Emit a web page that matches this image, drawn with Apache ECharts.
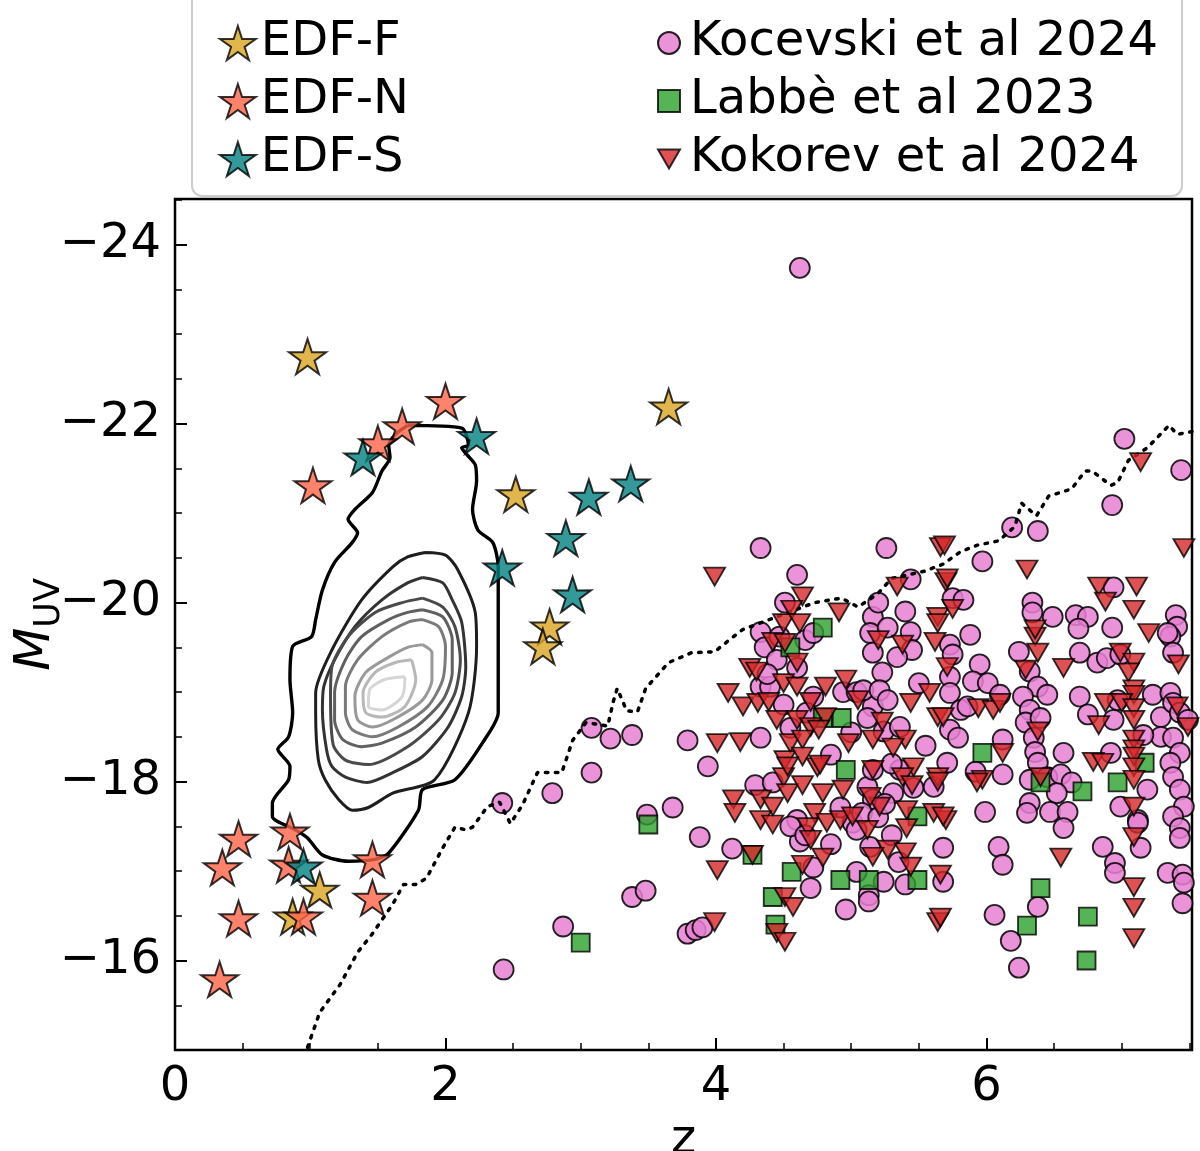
<!DOCTYPE html>
<html>
<head>
<meta charset="utf-8">
<script src="https://cdn.jsdelivr.net/npm/echarts@6/dist/echarts.min.js"></script>
<style>html,body{margin:0;padding:0;background:#fff}#c{width:1200px;height:1151px}</style>
</head>
<body>
<div id="c"></div>
<script>
// ---------------- data ----------------
const xMajorTicks = [0, 2, 4, 6];
const xMinorTicks = [0.5, 1, 1.5, 2.5, 3, 3.5, 4.5, 5, 5.5, 6.5, 7, 7.5];
const yMajorTicks = [-24, -22, -20, -18, -16];
const yMinorTicks = [-24.5, -23.5, -23, -22.5, -21.5, -21, -20.5, -19.5, -19, -18.5, -17.5, -17, -16.5, -15.5, -15];

const edfF = [[0.98,-22.75],[3.65,-22.19],[2.52,-21.21],[2.77,-19.73],[2.72,-19.51],[1.07,-16.79],[0.87,-16.49]];
const edfN = [[2.00,-22.25],[1.68,-21.97],[1.50,-21.78],[1.02,-21.31],[0.47,-17.36],[0.35,-17.04],[0.47,-16.47],[0.33,-15.79],[0.85,-17.44],[0.84,-17.07],[0.95,-16.49],[1.46,-17.13],[1.46,-16.70]];
const edfS = [[1.39,-21.62],[2.23,-21.86],[2.42,-20.39],[2.89,-20.72],[3.06,-21.18],[3.37,-21.33],[2.94,-20.09],[0.95,-17.05]];

const kocevski = [[4.62,-23.74],[2.42,-17.76],[2.79,-17.87],[3.08,-18.10],[3.08,-18.60],[3.22,-18.48],[3.38,-18.52],[3.79,-18.46],[3.94,-18.17],[3.68,-17.71],[3.49,-17.63],[3.88,-17.38],[3.38,-16.71],[3.48,-16.78],[2.87,-16.38],[3.79,-16.30],[3.85,-16.34],[2.43,-15.90],[4.33,-20.61],[5.26,-20.61],[4.60,-20.31],[4.12,-17.25],[3.90,-16.37],
[4.51,-20.00],[4.33,-19.67],[4.36,-19.50],[4.45,-19.36],[4.66,-19.58],[4.72,-19.66],[4.60,-19.27],[5.16,-19.84],[5.14,-19.66],[5.27,-19.72],[5.44,-19.67],[5.45,-19.47],[5.34,-19.39],[5.16,-19.44],[5.23,-19.22],[5.44,-20.26],[4.33,-19.06],[4.40,-19.06],[4.50,-18.86],[4.33,-18.49],[4.29,-17.96],[4.42,-17.99],[4.94,-19.00],[5.04,-19.00],[5.16,-18.84],[5.12,-18.71],[5.24,-18.56],[5.36,-18.61],[4.72,-18.95],[4.67,-18.77],
[4.62,-17.33],[4.72,-17.04],[4.70,-16.81],[4.96,-16.57],[5.04,-16.99],[5.13,-16.73],[5.13,-16.66],[5.24,-16.88],[5.40,-16.85],[5.30,-17.40],[5.14,-17.27],[4.60,-17.57],[4.92,-17.71],[5.01,-17.54],[5.04,-17.46],[5.12,-17.94],[5.16,-17.80],[5.31,-17.87],[5.46,-17.93],[5.61,-17.94],[5.16,-18.13],[5.36,-18.13],
[5.08,-17.65],[5.20,-17.60],[5.25,-17.75],[4.55,-17.50],[4.66,-17.40],[5.09,-19.02],[5.21,-19.02],[5.27,-18.91],[4.38,-19.20],[4.47,-19.62],[4.55,-18.60],[4.85,-18.30],[5.00,-18.55],[5.30,-18.20],[5.50,-19.10],[5.55,-18.40],[5.20,-20.00],[5.40,-19.90],[4.85,-17.30],[5.35,-17.10],
[7.02,-21.83],[7.44,-21.48],[6.93,-21.09],[6.19,-20.84],[6.38,-20.80],[5.97,-20.46],[5.75,-20.05],[5.83,-20.03],[6.34,-20.00],[6.34,-19.89],[6.49,-19.84],[6.66,-19.86],[6.75,-19.84],[6.68,-19.71],[6.93,-19.72],[6.94,-20.17],[7.40,-19.86],[7.41,-19.73],[7.36,-19.62],[5.88,-19.64],[5.73,-19.53],
[6.24,-19.45],[5.95,-19.31],[5.75,-19.42],[5.73,-19.17],[5.90,-19.12],[6.01,-19.10],[6.10,-18.97],[5.73,-18.99],[5.81,-18.80],[5.86,-18.84],[5.73,-18.58],[5.79,-18.49],[5.71,-18.21],[6.32,-19.23],[6.38,-19.06],[6.27,-18.95],[6.32,-18.80],[6.45,-18.97],[6.29,-18.66],[6.40,-18.71],[6.35,-18.49],[6.36,-18.33],[6.38,-18.21],[6.32,-18.02],[6.45,-18.05],[6.55,-18.08],[6.57,-18.32],[6.63,-17.99],[6.52,-17.87],[6.32,-17.76],[6.30,-17.65],[6.47,-17.66],[6.60,-17.66],[6.57,-17.48],[5.99,-17.66],[6.12,-18.47],[6.12,-18.08],[5.92,-18.11],[6.69,-19.44],[6.82,-19.33],[6.89,-19.38],[6.69,-18.95],[6.75,-18.75],[6.94,-18.69],[6.99,-19.42],[6.97,-18.91],[7.23,-18.97],[7.29,-18.72],[7.36,-18.99],[7.38,-18.88],[7.43,-18.77],[7.49,-18.69],[7.29,-18.50],[7.38,-18.49],[7.43,-18.32],[7.36,-18.21],[7.38,-18.05],[7.43,-17.91],[7.46,-17.72],[7.38,-17.61],[7.43,-17.48],[7.19,-17.91],[7.12,-17.57],[6.99,-17.72],[6.92,-18.32],[7.34,-19.66],[7.38,-19.44],[7.16,-18.52],
[5.68,-17.26],[5.68,-16.88],[6.09,-17.27],[6.12,-17.07],[6.86,-17.27],[6.95,-17.09],[6.95,-16.98],[7.14,-17.26],[7.43,-17.37],[7.34,-16.98],[7.45,-16.96],[7.46,-16.87],[7.45,-16.64],[6.06,-16.51],[6.38,-16.60],[6.18,-16.22],[6.24,-15.92],[7.12,-17.54]];

const labbe = [[3.50,-17.52],[3.00,-16.20],[4.79,-19.72],[4.55,-19.50],[4.79,-18.71],[4.93,-18.71],[4.96,-18.13],[5.49,-17.61],[4.27,-17.18],[4.56,-16.99],[4.92,-16.90],[5.13,-16.90],[5.49,-16.90],[4.42,-16.71],[4.44,-16.40],[5.97,-18.32],[6.40,-17.99],[6.71,-17.89],[6.97,-17.99],[7.17,-18.21],[6.40,-16.81],[6.30,-16.39],[6.75,-16.49],[6.74,-16.00]];

const kokorev = [[3.99,-20.29],[4.01,-18.43],[4.01,-17.01],[3.99,-16.43],
[4.64,-20.07],[4.56,-19.92],[4.50,-19.77],[4.62,-19.77],[4.42,-19.56],[4.51,-19.55],[4.91,-19.89],[5.34,-20.18],[5.66,-20.62],[5.70,-20.23],[5.64,-19.84],[5.64,-19.77],[5.20,-19.58],[5.38,-19.53],[5.62,-19.56],[4.25,-19.27],[4.30,-19.23],[4.60,-19.33],[4.09,-18.99],[4.20,-18.84],[4.31,-18.88],[4.39,-18.89],[4.50,-19.10],[4.60,-19.06],[4.45,-18.69],[4.60,-18.69],[4.70,-18.89],[4.81,-19.06],[4.96,-19.14],[5.05,-18.91],[4.81,-18.72],[4.70,-18.61],[4.18,-18.44],[4.55,-18.43],[4.64,-18.47],[4.76,-18.58],[4.98,-18.43],[5.16,-18.47],[5.23,-18.67],[5.40,-18.47],[5.44,-18.88],[5.58,-18.99],[5.64,-18.72],[5.31,-18.38],[5.46,-18.16],[4.51,-18.24],[4.64,-18.28],[4.75,-18.16],[4.50,-18.05],[5.16,-18.13],[5.64,-18.05],
[4.13,-17.80],[4.14,-17.65],[4.33,-17.80],[4.42,-17.72],[4.33,-17.57],[4.42,-17.52],[4.53,-17.87],[4.64,-17.96],[4.79,-17.87],[4.53,-18.17],[4.77,-18.19],[4.94,-17.91],[4.73,-17.65],[4.68,-17.49],[4.70,-17.35],[4.82,-17.54],[4.92,-17.57],[5.01,-17.61],[5.12,-17.46],[5.21,-17.72],[5.14,-17.83],[5.38,-18.05],[5.45,-17.96],[5.64,-18.00],[5.41,-17.68],[5.61,-17.65],[5.70,-17.57],[5.41,-17.48],[5.27,-17.24],[5.40,-17.21],[5.16,-17.16],[4.79,-17.15],[4.64,-17.07],[4.27,-17.18],[5.44,-17.05],[5.66,-16.96],[4.51,-16.71],[4.57,-16.60],[4.45,-16.31],[4.51,-16.21],[5.64,-16.43],
[5.69,-20.64],[5.71,-20.27],[5.75,-19.93],[6.30,-20.37],[6.83,-20.18],[6.88,-20.01],[7.11,-20.18],[7.09,-19.92],[7.14,-21.57],[7.46,-20.61],[7.20,-19.66],[6.36,-19.62],[6.36,-19.70],
[6.38,-19.44],[6.29,-19.25],[6.57,-19.27],[5.71,-19.28],[5.68,-18.72],[5.94,-18.82],[6.05,-18.80],[6.10,-18.88],[6.38,-18.56],[6.12,-18.32],[5.97,-18.02],[5.93,-17.99],[6.40,-18.05],[5.68,-17.61],[6.99,-19.44],[7.09,-19.33],[7.05,-19.22],[7.09,-19.03],[7.09,-18.97],[6.88,-18.88],[7.00,-18.88],[7.09,-18.82],[7.09,-18.69],[6.83,-18.63],[7.41,-18.84],[7.49,-18.61],[7.42,-19.31],[7.09,-18.47],[7.09,-18.36],[7.09,-18.28],[6.79,-18.22],[6.86,-18.21],[7.09,-18.16],[7.09,-18.02],[7.09,-17.72],[7.09,-17.38],
[6.55,-17.15],[7.09,-16.82],[7.09,-16.59],[7.09,-16.25],[5.66,-16.48]];

const completenessLimit = [[0.98,-15.03],[1.07,-15.42],[1.22,-15.73],[1.35,-16.09],[1.46,-16.30],[1.61,-16.63],[1.69,-16.85],[1.78,-16.85],[1.86,-16.92],[1.98,-17.26],[2.07,-17.49],[2.15,-17.46],[2.20,-17.49],[2.31,-17.72],[2.40,-17.77],[2.48,-17.53],[2.57,-17.74],[2.68,-18.10],[2.86,-18.10],[2.94,-18.46],[3.04,-18.66],[3.20,-18.62],[3.24,-18.89],[3.27,-19.04],[3.34,-18.79],[3.42,-18.78],[3.48,-19.04],[3.65,-19.33],[3.82,-19.44],[3.99,-19.45],[4.13,-19.62],[4.20,-19.70],[4.73,-20.00],[4.93,-20.05],[5.05,-19.95],[5.19,-20.09],[5.30,-20.27],[5.54,-20.35],[5.68,-20.43],[5.81,-20.57],[5.93,-20.64],[6.09,-20.69],[6.21,-20.85],[6.26,-21.11],[6.37,-20.97],[6.46,-21.19],[6.63,-21.27],[6.73,-21.47],[6.78,-21.47],[6.92,-21.31],[6.97,-21.34],[7.05,-21.59],[7.19,-21.73],[7.35,-21.98],[7.41,-21.88],[7.52,-21.91]];

const contour1 = [[1.72,-21.98],[2.12,-21.95],[2.17,-21.76],[2.12,-21.73],[2.16,-21.65],[2.22,-21.54],[2.23,-21.36],[2.20,-21.04],[2.24,-20.81],[2.35,-20.67],[2.39,-20.40],[2.39,-19.89],[2.39,-18.77],[2.29,-18.47],[2.07,-18.02],[1.83,-17.91],[1.80,-17.68],[1.58,-17.20],[1.48,-17.13],[1.28,-17.11],[1.09,-17.18],[0.98,-17.37],[0.89,-17.46],[0.72,-17.61],[0.72,-17.76],[0.84,-18.02],[0.85,-18.17],[0.76,-18.36],[0.84,-18.50],[0.87,-18.77],[0.85,-19.14],[0.87,-19.51],[1.01,-19.62],[1.04,-19.81],[1.09,-20.14],[1.18,-20.45],[1.31,-20.67],[1.35,-20.78],[1.28,-20.93],[1.33,-21.04],[1.46,-21.23],[1.53,-21.47],[1.59,-21.62],[1.58,-21.76],[1.63,-21.88],[1.72,-21.98]];
const contour2 = [[1.85,-20.56],[2.00,-20.53],[2.09,-20.37],[2.22,-19.89],[2.23,-19.51],[2.17,-18.77],[1.92,-18.02],[1.61,-17.87],[1.43,-17.71],[1.31,-17.68],[1.21,-17.80],[1.11,-18.02],[1.06,-18.24],[1.04,-18.77],[1.04,-18.99],[1.16,-19.47],[1.38,-20.03],[1.61,-20.40],[1.72,-20.51],[1.85,-20.56]];
const contour3 = [[1.83,-20.28],[1.98,-20.22],[2.05,-20.03],[2.12,-19.78],[2.15,-19.28],[2.12,-18.95],[2.02,-18.61],[1.83,-18.28],[1.61,-18.10],[1.42,-17.99],[1.26,-18.05],[1.16,-18.17],[1.12,-18.36],[1.09,-18.80],[1.10,-19.06],[1.18,-19.36],[1.33,-19.73],[1.53,-20.03],[1.72,-20.22],[1.83,-20.28]];
const contour4 = [[1.83,-20.05],[1.98,-19.95],[2.07,-19.73],[2.11,-19.36],[2.07,-18.99],[1.95,-18.69],[1.72,-18.39],[1.43,-18.19],[1.26,-18.24],[1.17,-18.41],[1.15,-18.95],[1.16,-19.28],[1.28,-19.62],[1.48,-19.89],[1.68,-20.00],[1.83,-20.05]];
const contour5 = [[1.83,-19.92],[1.98,-19.84],[2.05,-19.58],[2.05,-19.22],[1.98,-18.91],[1.78,-18.61],[1.53,-18.43],[1.38,-18.39],[1.24,-18.47],[1.18,-18.69],[1.18,-18.99],[1.26,-19.36],[1.38,-19.62],[1.58,-19.81],[1.72,-19.89],[1.83,-19.92]];
const contour6 = [[1.83,-19.81],[1.95,-19.73],[2.00,-19.51],[1.98,-19.14],[1.87,-18.84],[1.65,-18.61],[1.46,-18.50],[1.31,-18.58],[1.26,-18.77],[1.26,-19.06],[1.35,-19.36],[1.53,-19.62],[1.72,-19.78],[1.83,-19.81]];
const contour7 = [[1.83,-19.53],[1.90,-19.44],[1.90,-19.14],[1.83,-18.91],[1.61,-18.69],[1.46,-18.61],[1.35,-18.69],[1.33,-18.95],[1.41,-19.22],[1.58,-19.39],[1.72,-19.50],[1.83,-19.53]];
const contour8 = [[1.75,-19.36],[1.78,-19.14],[1.70,-18.84],[1.53,-18.72],[1.41,-18.77],[1.39,-18.99],[1.48,-19.22],[1.63,-19.33],[1.75,-19.36]];
const contour9 = [[1.70,-19.17],[1.68,-18.95],[1.53,-18.80],[1.43,-18.84],[1.44,-19.03],[1.55,-19.14],[1.70,-19.17]];
const contours = [contour1, contour2, contour3, contour4, contour5, contour6, contour7, contour8, contour9];

// ---------------- styling ----------------
const FONT = 'DejaVu Sans';
const starPath = 'path://M50,0L61.17,34.63L97.55,34.55L68.07,55.87L79.39,90.45L50,69L20.61,90.45L31.93,55.87L2.45,34.55L38.83,34.63Z';
const triDown = 'path://M0,0L20,0L10,17.3Z';
const contourColors = ['#000000','#1e1e1e','#333333','#4a4a4a','#606060','#7a7a7a','#999999','#b8b8b8','#d6d6d6'];
const contourWidths = [3.4, 3, 3, 3, 3, 3, 3, 3, 3];

const chart = echarts.init(document.getElementById('c'), null, {renderer: 'canvas'});
const minusFmt = v => (v < 0 ? '\u2212' : '') + Math.abs(v);

const series = [];
contours.forEach((c, i) => {
  series.push({
    type: 'line', name: 'contour' + (i + 1), data: c, showSymbol: false, smooth: 0.25,
    lineStyle: {color: contourColors[i], width: contourWidths[i]}, silent: true, z: 1
  });
});
series.push({
  type: 'scatter', name: 'Kocevski et al 2024', data: kocevski, symbol: 'circle', symbolSize: 20,
  itemStyle: {color: 'rgb(232,128,210)', opacity: 0.85, borderColor: '#000', borderWidth: 1.8}, z: 2
});
series.push({
  type: 'line', name: 'limit', data: completenessLimit, showSymbol: false,
  lineStyle: {color: '#000', width: 3.5, type: [2.5, 7.5], cap: 'round'}, silent: true, z: 3
});
series.push({
  type: 'scatter', name: 'Labbè et al 2023', data: labbe, symbol: 'rect', symbolSize: 18,
  itemStyle: {color: '#2CA02C', opacity: 0.8, borderColor: '#000', borderWidth: 1.8}, z: 4
});
series.push({
  type: 'scatter', name: 'Kokorev et al 2024', data: kokorev, symbol: triDown, symbolSize: [21, 18],
  itemStyle: {color: '#D62728', opacity: 0.8, borderColor: '#000', borderWidth: 1.8}, z: 5
});
[['EDF-F', edfF, '#DAA520'], ['EDF-N', edfN, '#FF6347'], ['EDF-S', edfS, '#008080']].forEach(([n, d, col]) => {
  series.push({
    type: 'scatter', name: n, data: d, symbol: starPath, symbolSize: 37, symbolKeepAspect: true,
    itemStyle: {color: col, borderColor: '#000', borderWidth: 2}, z: 6
  });
});

const legendText = {fontFamily: FONT, fontSize: 48, color: '#000', lineHeight: 48};
const option = {
  animation: false,
  backgroundColor: '#fff',
  textStyle: {fontFamily: FONT},
  graphic: [{
    type: 'rect', left: 191, top: -10, z: 0,
    shape: {width: 990, height: 205, r: 10},
    style: {fill: '#fff', stroke: '#cccccc', lineWidth: 2}
  }],
  legend: [{
    orient: 'vertical', left: 219, top: 19, padding: 0, itemGap: 10, itemWidth: 36, itemHeight: 34,
    textStyle: legendText, selectedMode: false,
    data: [{name: 'EDF-F', icon: starPath}, {name: 'EDF-N', icon: starPath}, {name: 'EDF-S', icon: starPath}]
  }, {
    orient: 'vertical', left: 657, top: 19, padding: 0, itemGap: 10, itemWidth: 22, itemHeight: 22,
    textStyle: Object.assign({padding: [0, 0, 0, 5]}, legendText), selectedMode: false,
    data: [{name: 'Kocevski et al 2024', icon: 'circle'}, {name: 'Labbè et al 2023', icon: 'rect'}, {name: 'Kokorev et al 2024', icon: triDown}]
  }],
  grid: {left: 175, right: 8, top: 199, bottom: 101, containLabel: false, outerBoundsMode: 'none',
    show: true, borderColor: '#000', borderWidth: 2.5, backgroundColor: 'transparent'},
  xAxis: [{
    type: 'value', min: 0, max: 7.52, position: 'bottom',
    name: 'z', nameLocation: 'middle', nameGap: 54,
    nameTextStyle: {fontFamily: FONT, fontSize: 48, color: '#000'},
    axisLine: {show: false},
    axisTick: {show: true, inside: true, length: 12, lineStyle: {color: '#000', width: 2}, customValues: xMajorTicks},
    axisLabel: {show: true, customValues: xMajorTicks, formatter: minusFmt, fontFamily: FONT, fontSize: 48, color: '#000', margin: 14},
    splitLine: {show: false}
  }, {
    type: 'value', min: 0, max: 7.52, position: 'bottom',
    axisLine: {show: false},
    axisTick: {show: true, inside: true, length: 7, lineStyle: {color: '#000', width: 1.5}, customValues: xMinorTicks},
    axisLabel: {show: false}, splitLine: {show: false}
  }],
  yAxis: [{
    type: 'value', min: -24.51, max: -15.0, inverse: true, position: 'left',
    name: '{i|M}{s|UV}', nameLocation: 'middle', nameGap: 108, nameRotate: 90, nameMoveOverlap: false,
    nameTextStyle: {color: '#000', rich: {
      i: {fontFamily: FONT, fontStyle: 'italic', fontSize: 50, lineHeight: 62, verticalAlign: 'middle', color: '#000'},
      s: {fontFamily: FONT, fontSize: 35, lineHeight: 44, verticalAlign: 'bottom', color: '#000'}
    }},
    axisLine: {show: false},
    axisTick: {show: true, inside: true, length: 12, lineStyle: {color: '#000', width: 2}, customValues: yMajorTicks},
    axisLabel: {show: true, customValues: yMajorTicks, formatter: minusFmt, fontFamily: FONT, fontSize: 48, color: '#000', margin: 14},
    splitLine: {show: false}
  }, {
    type: 'value', min: -24.51, max: -15.0, inverse: true, position: 'left',
    axisLine: {show: false},
    axisTick: {show: true, inside: true, length: 7, lineStyle: {color: '#000', width: 1.5}, customValues: yMinorTicks},
    axisLabel: {show: false}, splitLine: {show: false}
  }],
  series: series
};
chart.setOption(option);
</script>
</body>
</html>
